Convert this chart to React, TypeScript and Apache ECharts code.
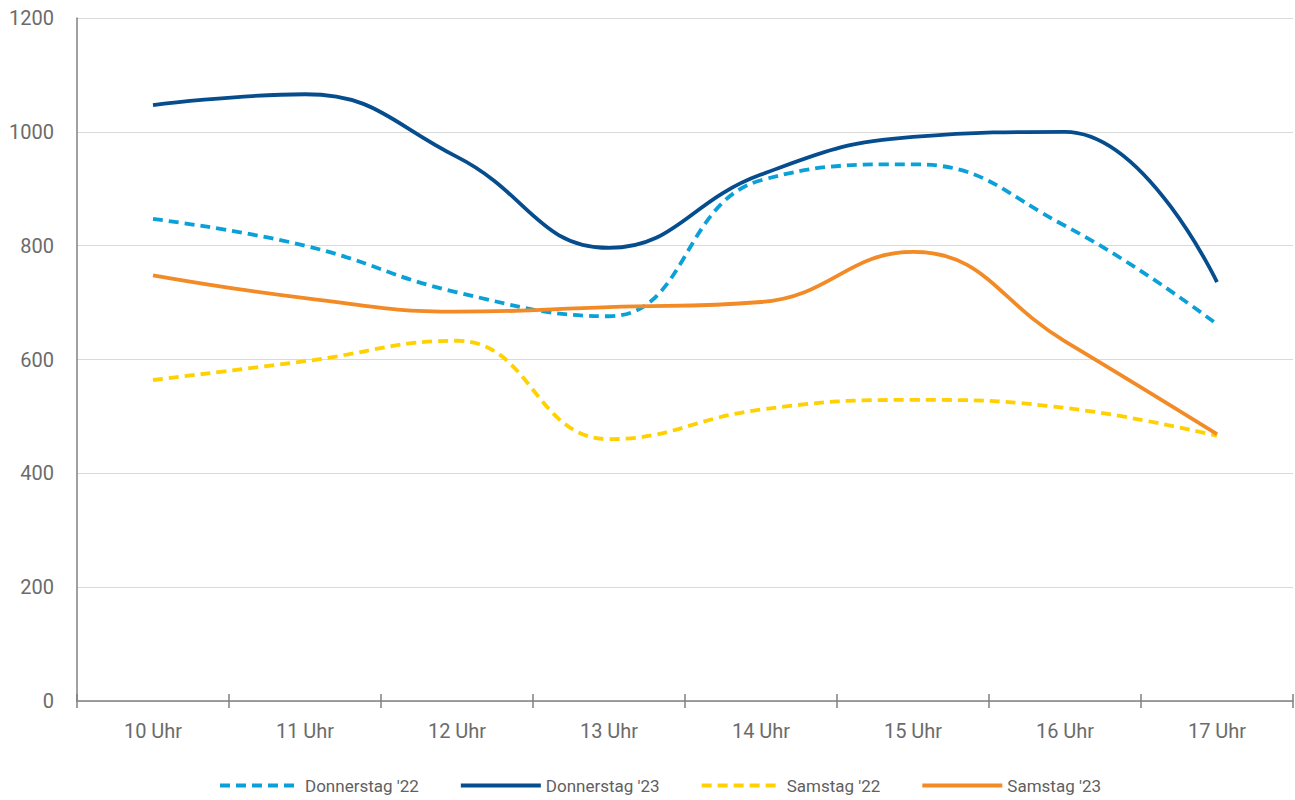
import React, { useEffect, useRef } from "react";
import * as echarts from "echarts";

const categories = ["10 Uhr", "11 Uhr", "12 Uhr", "13 Uhr", "14 Uhr", "15 Uhr", "16 Uhr", "17 Uhr"];
const donnerstag22 = [847, 800, 718, 676, 915, 943, 835, 662];
const donnerstag23 = [1047, 1066, 956, 796, 925, 991, 1000, 736];
const samstag22 = [564, 597, 633, 460, 512, 529, 515, 466];
const samstag23 = [748, 708, 684, 692, 701, 789, 632, 469];
const yTicks = { min: 0, max: 1200, interval: 200 };

const seriesDefs = [
  { name: "Donnerstag '22", data: donnerstag22, color: "#0ba1d8", dashed: true },
  { name: "Donnerstag '23", data: donnerstag23, color: "#064d8e", dashed: false },
  { name: "Samstag '22", data: samstag22, color: "#ffd100", dashed: true },
  { name: "Samstag '23", data: samstag23, color: "#f28a25", dashed: false },
];

const FONT = "Roboto, 'Noto Sans', sans-serif";

export default function App() {
  const ref = useRef<HTMLDivElement>(null);
  useEffect(() => {
    if (!ref.current) return;
    const chart = echarts.init(ref.current, undefined, { renderer: "svg" });
    chart.setOption({
      animation: false,
      backgroundColor: "#ffffff",
      grid: { left: 77, right: 2, top: 18, bottom: 99, containLabel: false },
      legend: {
        left: 213,
        top: 772,
        itemWidth: 80,
        itemHeight: 14,
        itemGap: 40,
        itemStyle: { opacity: 0 },
        lineStyle: { width: 4 },
        textStyle: { fontFamily: FONT, fontSize: 17, color: "#5f5f5f" },
        data: seriesDefs.map((s) => s.name),
      },
      xAxis: [
        {
          type: "category",
          data: categories,
          boundaryGap: true,
          position: "bottom",
          axisLine: { show: true, lineStyle: { color: "#808080", width: 1.5 } },
          axisTick: { show: true, length: 7, lineStyle: { color: "#808080", width: 1.5 } },
          axisLabel: { fontFamily: FONT, fontSize: 20, color: "#6b6b6b", margin: 20 },
          splitLine: { show: false },
        },
        {
          type: "category",
          data: categories,
          boundaryGap: true,
          position: "bottom",
          axisLine: { show: false },
          axisTick: { show: true, inside: true, length: 7, lineStyle: { color: "#808080", width: 1.5 } },
          axisLabel: { show: false },
          splitLine: { show: false },
        },
      ],
      yAxis: {
        type: "value",
        min: yTicks.min,
        max: yTicks.max,
        interval: yTicks.interval,
        axisLine: { show: true, lineStyle: { color: "#808080", width: 1.5 } },
        axisTick: { show: false },
        axisLabel: {
          fontFamily: FONT,
          fontSize: 20,
          color: "#6b6b6b",
          margin: 23,
          formatter: (v: number) => String(v),
        },
        splitLine: { show: true, lineStyle: { color: "#d9d9d9", width: 1 } },
      },
      series: seriesDefs.map((s) => ({
        name: s.name,
        type: "line",
        data: s.data,
        smooth: 0.45,
        symbol: "none",
        showSymbol: false,
        color: s.color,
        lineStyle: {
          color: s.color,
          width: 3.8,
          type: s.dashed ? [10, 6] : "solid",
        },
      })),
    });
    return () => chart.dispose();
  }, []);
  return <div ref={ref} style={{ width: 1295, height: 800, position: "absolute", left: 0, top: 0 }} />;
}
